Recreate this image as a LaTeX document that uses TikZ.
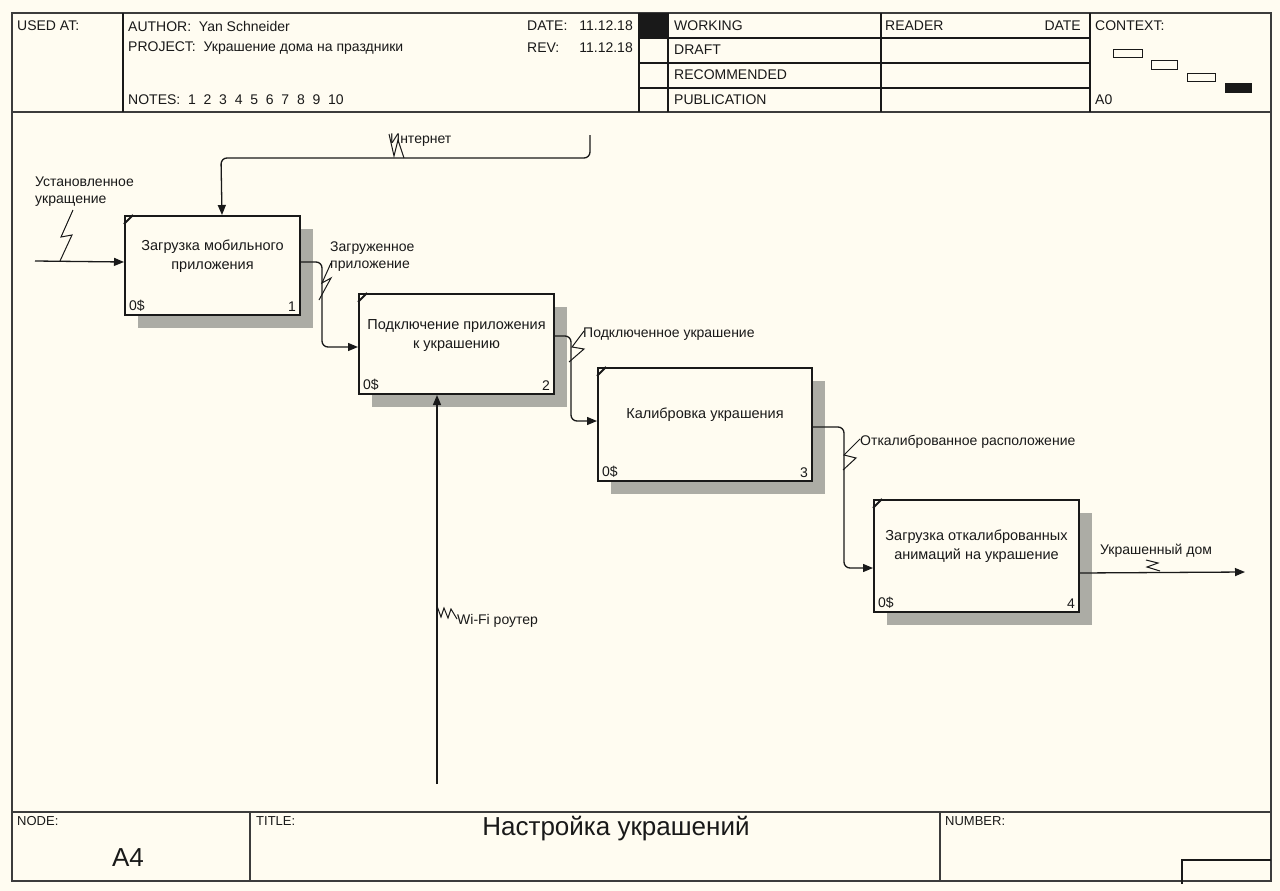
\documentclass[tikz,border=0pt]{standalone}
\usepackage{fontspec}
\setmainfont{Liberation Sans}
\usetikzlibrary{arrows.meta,shadows}

\definecolor{paper}{RGB}{255,252,241}
\definecolor{ink}{RGB}{25,25,25}
\definecolor{shade}{RGB}{172,172,165}

\tikzset{
  frame/.style={draw=ink!85, line width=1.6pt},
  grid/.style={draw=ink, line width=1.3pt},
  fbox/.style={draw=ink, line width=2pt, fill=paper, anchor=north west, inner sep=0pt,
    general shadow={fill=shade, shadow xshift=13pt, shadow yshift=-13pt}},
  btext/.style={inner sep=0pt, align=center, text=ink, font=\fontsize{14.5}{19}\selectfont},
  corner/.style={inner sep=0pt, text=ink, font=\fontsize{14}{16}\selectfont},
  lbl/.style={inner sep=0pt, anchor=west, align=left, text=ink, font=\fontsize{14}{17}\selectfont},
  hdr/.style={lbl},
  small/.style={lbl, font=\fontsize{13}{15}\selectfont},
  big/.style={inner sep=0pt, text=ink, font=\fontsize{26}{30}\selectfont},
  arr/.style={draw=ink, line width=1.3pt, rounded corners=6pt, -{Triangle[length=10pt,width=8pt]}},
  zig/.style={draw=ink, line width=1pt},
}

\begin{document}
\begin{tikzpicture}[x=1pt, y=-1pt]
    \useasboundingbox (0,0) rectangle (1280,891);
    \fill[paper] (0,0) rectangle (1280,891);

    % Frame
    \draw[frame] (12,13) rectangle (1271,881);
    \draw[frame] (12,112) -- (1271,112);
    \draw[frame] (12,812) -- (1271,812);

    % Header grid
    \draw[grid] (123,13) -- (123,112);
    \draw[grid] (639,13) -- (639,112);
    \draw[grid] (668,13) -- (668,112);
    \draw[grid] (881,13) -- (881,112);
    \draw[grid] (1090,13) -- (1090,112);
    \foreach \y in {38,63,88}
      \draw[grid] (639,\y) -- (1090,\y);
    \fill[ink] (639,13) rectangle (668,38);

    % Header texts
    \node[hdr] (usedat) at (17,26) {USED AT:};
    \node[hdr] (author) at (128,26) {AUTHOR:~~Yan Schneider};
    \node[hdr] (project) at (128,48) {PROJECT:~~Украшение дома на праздники};
    \node[hdr] (notes) at (128,100) {NOTES:~~1~~2~~3~~4~~5~~6~~7~~8~~9~~10};
    \node[hdr] (date) at (527,26) {DATE:};
    \node[hdr, anchor=east] (dateval) at (633,26) {11.12.18};
    \node[hdr] (rev) at (527,48) {REV:};
    \node[hdr, anchor=east] (revval) at (633,48) {11.12.18};
    \node[hdr] (working) at (674,26) {WORKING};
    \node[hdr] (draft) at (674,50) {DRAFT};
    \node[hdr] (recommended) at (674,75) {RECOMMENDED};
    \node[hdr] (publication) at (674,100) {PUBLICATION};
    \node[hdr] (reader) at (885,26) {READER};
    \node[hdr, anchor=east] (readerdate) at (1081,26) {DATE};
    \node[hdr] (context) at (1095,26) {CONTEXT:};
    \node[hdr] (ctxnode) at (1095,100) {A0};

    % Context sketch
    \draw[ink, line width=1pt] (1113,50) rectangle (1142,58);
    \draw[ink, line width=1pt] (1151,61) rectangle (1177,70);
    \draw[ink, line width=1pt] (1187,74) rectangle (1215,82);
    \fill[ink] (1225,83) rectangle (1252,93);

    % Boxes
    \node[fbox, minimum width=175pt, minimum height=99pt] (b1) at (124,215) {};
    \node[fbox, minimum width=195pt, minimum height=100pt] (b2) at (358,293) {};
    \node[fbox, minimum width=214pt, minimum height=113pt] (b3) at (597,367) {};
    \node[fbox, minimum width=205pt, minimum height=112pt] (b4) at (873,499) {};

    \node[btext] (t1) at ([yshift=9]b1.center) {Загрузка мобильного\\приложения};
    \node[btext] (t2) at ([yshift=8.5]b2.center) {Подключение приложения\\к украшению};
    \node[btext] (t3) at ([yshift=9.5]b3.center) {Калибровка украшения};
    \node[btext] (t4) at ([yshift=10]b4.center) {Загрузка откалиброванных\\анимаций на украшение};

    % Box corners
    \foreach \b/\n in {b1/1, b2/2, b3/3, b4/4} {
      \draw[ink, line width=2pt] ([yshift=-9]\b.north west) -- ([xshift=9]\b.north west);
      \node[corner, anchor=south west] (\b cost) at ([shift={(5,-4)}]\b.south west) {0\$};
      \node[corner, anchor=south east] (\b num) at ([shift={(-5,-4)}]\b.south east) {\n};
    }

    % Free ends
    \coordinate (insrc) at (35,261);
    \coordinate (ctlsrc) at (590,135);
    \coordinate (ctlbend) at (221,158);
    \coordinate (mechsrc) at (437,784);
    \coordinate (outend) at (1245,572);

    % Edges
    \draw[arr] (insrc) -- ([yshift=3.5]b1.west);
    \draw[arr] (ctlsrc) |- (ctlbend) -- ([xshift=9.5]b1.north);
    \draw[arr] ([yshift=3.5]b1.east) -- ++(21,0) |- ([yshift=-3]b2.west);
    \draw[arr] ([yshift=8]b2.east) -- ++(16,0) |- ([yshift=3.5]b3.west);
    \draw[arr] ([yshift=-2.5]b3.east) -- ++(31,0) |- ([yshift=-12]b4.west);
    \draw[arr] ([yshift=-17]b4.east) -- (outend);
    \draw[arr] (mechsrc) -- (mechsrc |- b2.south);

    % Edge labels
    \node[lbl] (linput) at (35,191.5) {Установленное\\укращение};
    \node[lbl] (lnet) at (390,140) {Интернет};
    \node[lbl] (lapp) at (330,257) {Загруженное\\приложение};
    \node[lbl] (lconn) at (583,334) {Подключенное украшение};
    \node[lbl] (lcal) at (860,442) {Откалиброванное расположение};
    \node[lbl] (lout) at (1100,551) {Украшенный дом};
    \node[lbl] (lwifi) at (457,621) {Wi-Fi роутер};

    % Squiggles
    \draw[zig] (73,210) -- (61,237) -- (72,235) -- (60,261);
    \draw[zig] (389,134) -- (394,156) -- (398,140) -- (404,158);
    \draw[zig] (319,300) -- (331,278) -- (322,283) -- (331,263);
    \draw[zig] (569,362) -- (584,349) -- (572,347) -- (584,331);
    \draw[zig] (843,470) -- (856,458) -- (844,455) -- (860,439);
    \draw[zig] (1146,560) -- (1158,563) -- (1147,567) -- (1160,571);
    \draw[zig] (437,606) -- (441,617) -- (444,608) -- (448,618) -- (451,609) -- (457,619);

    % Footer
    \draw[frame] (250,812) -- (250,881);
    \draw[frame] (940,812) -- (940,881);
    \draw[grid] (1182,884) -- (1182,860) -- (1271,860);
    \node[small] (nodelbl) at (17,821) {NODE:};
    \node[big] (nodenum) at (128,858) {A4};
    \node[small] (titlelbl) at (256,821) {TITLE:};
    \node[big] (title) at (616,829) {Настройка украшений};
    \node[small] (numberlbl) at (945,821) {NUMBER:};
\end{tikzpicture}
\end{document}
